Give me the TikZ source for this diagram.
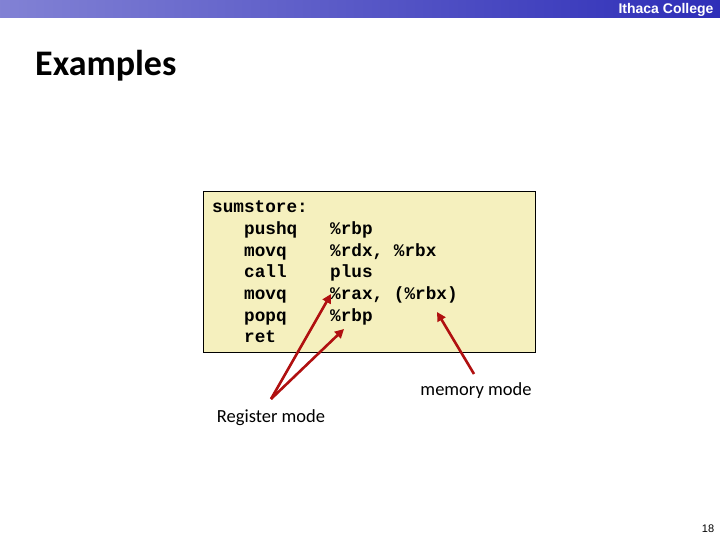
\documentclass[tikz,border=0pt]{standalone}
\usepackage{fontspec}
\setmainfont{Carlito}
\newfontfamily\codefont{Liberation Mono}
\newfontfamily\barfont{Liberation Sans}
\usetikzlibrary{arrows.meta}
\definecolor{boxy}{HTML}{F5F0BE}
\definecolor{arr}{HTML}{B01010}
\definecolor{barblue}{HTML}{2E2EB8}
\tikzset{code/.style={anchor=base west,inner sep=0,font=\codefont\bfseries\fontsize{17.7}{17.7}\selectfont},
lab/.style={font=\fontsize{18.5}{18.5}\selectfont},
redarr/.style={draw=arr,line width=2.6pt,-{Triangle[length=9pt,width=9pt]}}}
\begin{document}
\begin{tikzpicture}[x=1pt,y=-1pt]
\useasboundingbox (0,0) rectangle (720,540);
\shade[left color=barblue!60,right color=barblue] (0,0) rectangle (720,18);
\node[anchor=east,text=white,font=\barfont\bfseries\fontsize{14}{14}\selectfont] (ic) at (717,10) {Ithaca College};
\node[anchor=west,inner sep=0,font=\bfseries\fontsize{36}{36}\selectfont] (title) at (35,66) {Examples};
\node[draw=black,line width=1.2pt,fill=boxy,minimum width=332pt,minimum height=161pt,anchor=north west,inner sep=0] (box) at (203,191) {};
\node[code] (l1) at (212,213) {sumstore:};
\foreach \y/\a/\b [count=\i] in {235/pushq/\%rbp,256/movq/{\%rdx, \%rbx},277/call/plus,299/movq/{\%rax, (\%rbx)},321/popq/\%rbp}{
 \node[code] (i\i) at (244,\y) {\a};
 \node[code] (o\i) at (330,\y) {\b};
}
\node[code] (r) at (244,342) {ret};
\node[lab] (reg) at (271,418) {Register mode};
\node[lab] (mem) at (476,391) {memory mode};
\coordinate (rt) at (271,399);
\coordinate (mt) at (474,374);
\coordinate (a1) at (331,294);
\coordinate (a2) at (344,329);
\coordinate (a3) at (437,312);
\draw[redarr] (rt) -- (a1);
\draw[redarr] (rt) -- (a2);
\draw[redarr] (mt) -- (a3);
\node[font=\barfont\fontsize{11}{11}\selectfont] (pg) at (708,529) {18};
\end{tikzpicture}
\end{document}
